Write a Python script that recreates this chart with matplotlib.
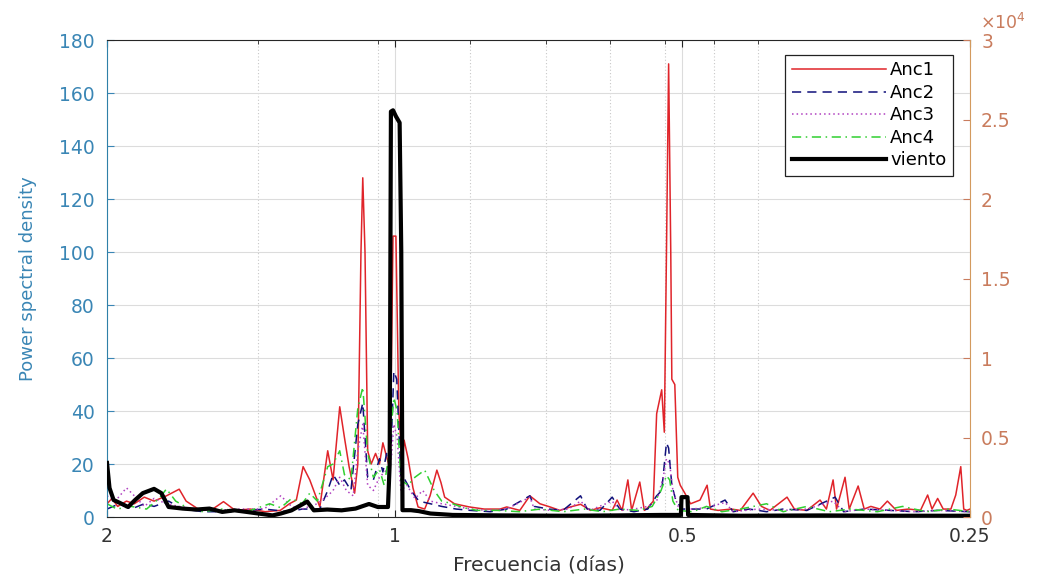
import matplotlib
matplotlib.use("Agg")
import matplotlib.pyplot as plt
from matplotlib.ticker import FixedLocator, FixedFormatter, MultipleLocator, FuncFormatter, NullFormatter

plt.rcParams['font.family'] = ['DejaVu Sans']

# ---------------- data (frequency in cycles per day) ----------------
anc1_f = [0.500, 0.506, 0.513, 0.524, 0.534, 0.547, 0.560, 0.577, 0.595, 0.605, 0.626, 0.645, 0.662,
          0.681, 0.706, 0.732, 0.759, 0.776, 0.789, 0.802, 0.815, 0.835, 0.851, 0.858, 0.862, 0.876,
          0.886, 0.896, 0.908, 0.915, 0.922, 0.926, 0.931, 0.937, 0.945, 0.955, 0.964, 0.972, 0.982,
          0.989, 0.996, 1.003, 1.010, 1.018, 1.023, 1.033, 1.045, 1.058, 1.075, 1.089, 1.107, 1.118,
          1.128, 1.155, 1.197, 1.241, 1.289, 1.310, 1.352, 1.385, 1.419, 1.454, 1.489, 1.527, 1.565,
          1.603, 1.640, 1.689, 1.709, 1.730, 1.754, 1.770, 1.805, 1.825, 1.840, 1.865, 1.880, 1.903,
          1.915, 1.925, 1.935, 1.945, 1.950, 1.964, 1.978, 1.990, 2.012, 2.040, 2.087, 2.123, 2.140,
          2.180, 2.250, 2.300, 2.372, 2.420, 2.470, 2.574, 2.620, 2.700, 2.787, 2.830, 2.876, 2.900,
          2.960, 2.990, 3.055, 3.100, 3.150, 3.220, 3.278, 3.350, 3.450, 3.550, 3.612, 3.650, 3.700,
          3.750, 3.820, 3.865, 3.912, 3.940, 3.970, 4.000]
anc1_v = [5, 7, 4, 6, 5, 7.5, 6, 8, 10.5, 6, 2.5, 3, 5.8,
          2.5, 3, 2, 2.5, 5, 6.4, 19, 14, 3.8, 25, 18, 14, 41.6,
          30, 19, 9, 20, 100, 128, 100, 25, 20, 24, 20, 28, 22,
          18, 106, 106, 40, 20, 29, 22, 11, 3.8, 3, 8, 17.7, 13,
          7.5, 5, 3.8, 3, 3, 3.8, 2.5, 8, 5, 3.8, 2.5, 3.8, 4.8,
          2.5, 3.5, 2.5, 6.4, 2.5, 14, 2.5, 13.2, 2.5, 3.5, 6, 39, 48,
          32, 100, 171, 100, 52, 50, 15, 12, 9, 5, 6.4, 12, 3,
          2.5, 3, 2.5, 9, 4, 2.5, 7.5, 3, 2.5, 6.4, 3, 14, 3,
          15, 3, 11.7, 3, 4, 3, 6, 2.5, 3, 2.5, 8.3, 3, 7,
          3, 3, 8.3, 19, 3, 2.5, 3]

anc2_f = [0.500, 0.515, 0.530, 0.547, 0.560, 0.580, 0.600, 0.630, 0.680, 0.730, 0.776, 0.800, 0.835,
          0.851, 0.862, 0.876, 0.886, 0.900, 0.915, 0.926, 0.937, 0.950, 0.964, 0.972, 0.982, 0.990,
          0.998, 1.005, 1.015, 1.023, 1.040, 1.060, 1.090, 1.120, 1.160, 1.200, 1.260, 1.310, 1.385,
          1.400, 1.450, 1.500, 1.565, 1.590, 1.640, 1.689, 1.720, 1.780, 1.840, 1.880, 1.903, 1.925,
          1.935, 1.950, 1.970, 2.000, 2.060, 2.120, 2.217, 2.260, 2.350, 2.450, 2.550, 2.700, 2.890,
          2.950, 3.100, 3.300, 3.500, 3.700, 4.000]
anc2_v = [3, 5, 3, 5, 4, 6, 3, 2, 2, 3, 2, 3, 3,
          10, 16, 12, 14, 10, 35, 43, 15, 14, 22, 17, 25, 20,
          55, 52, 15, 14.6, 10, 6, 5, 4, 3, 2.5, 2, 3, 8,
          4, 3, 2.5, 8, 3, 2.5, 7.5, 3, 2, 3, 8, 10, 28,
          26, 12, 6, 3, 3, 3, 6.4, 2, 3, 2, 3, 2.5, 7.5,
          2, 3, 2.5, 2, 2.5, 2]

anc3_f = [0.500, 0.510, 0.524, 0.534, 0.547, 0.560, 0.577, 0.595, 0.620, 0.650, 0.690, 0.730, 0.760,
          0.780, 0.800, 0.830, 0.851, 0.862, 0.876, 0.890, 0.905, 0.915, 0.926, 0.937, 0.950, 0.964,
          0.982, 0.992, 0.998, 1.006, 1.015, 1.030, 1.050, 1.070, 1.090, 1.120, 1.160, 1.200, 1.250,
          1.310, 1.385, 1.400, 1.460, 1.520, 1.565, 1.600, 1.689, 1.720, 1.780, 1.840, 1.880, 1.910,
          1.925, 1.940, 1.955, 1.980, 2.040, 2.120, 2.217, 2.260, 2.400, 2.550, 2.700, 2.876, 2.950,
          3.100, 3.300, 3.500, 3.700, 4.000]
anc3_v = [8, 6, 11, 8, 4, 7, 5, 4, 3, 2.5, 3, 3, 8,
          4, 3, 5, 8, 10, 15, 10, 8, 25, 35, 12, 10, 15,
          18, 22, 35, 30, 10, 12, 7, 10, 6, 5, 4, 3, 2.5,
          3, 7.5, 3, 2.5, 3, 6, 2.5, 6, 2.5, 3, 4, 6, 15,
          22, 20, 10, 4, 3, 3.5, 5.5, 2, 3, 2.5, 3, 6, 2,
          3, 2.5, 2, 2.5, 2]

anc4_f = [0.500, 0.512, 0.530, 0.550, 0.567, 0.577, 0.590, 0.610, 0.630, 0.660, 0.700, 0.740, 0.760,
          0.780, 0.800, 0.815, 0.830, 0.851, 0.862, 0.876, 0.886, 0.900, 0.915, 0.926, 0.937, 0.950,
          0.964, 0.975, 0.985, 0.998, 1.006, 1.015, 1.033, 1.050, 1.075, 1.100, 1.120, 1.150, 1.180,
          1.220, 1.280, 1.350, 1.420, 1.500, 1.580, 1.650, 1.720, 1.800, 1.860, 1.900, 1.925, 1.940,
          1.955, 1.980, 2.050, 2.120, 2.200, 2.300, 2.450, 2.550, 2.700, 2.850, 3.000, 3.200, 3.400,
          3.600, 3.800, 4.000]
anc4_v = [5, 3, 4, 3, 7, 10.6, 6, 3, 2, 3, 2, 5, 3.5,
          7, 5, 9, 6, 19, 20, 25, 16, 14, 41, 49, 24, 15,
          18, 12, 22, 45, 40, 14, 12, 15, 17.7, 10, 6, 5, 3.5,
          2.5, 2.5, 2, 3, 2, 3, 2, 3, 2.5, 4, 10, 15.6, 14,
          6, 2.5, 2, 4, 2, 3, 5, 2, 4, 2, 3, 2, 4,
          2, 3, 2]

# wind spectrum, right axis
viento_f = [0.500, 0.503, 0.508, 0.516, 0.526, 0.535, 0.545, 0.560, 0.570, 0.580, 0.600, 0.620, 0.640,
            0.660, 0.680, 0.700, 0.720, 0.745, 0.760, 0.780, 0.810, 0.823, 0.850, 0.880, 0.910, 0.940,
            0.960, 0.984, 0.988, 0.991, 0.996, 1.003, 1.012, 1.016, 1.019, 1.040, 1.060, 1.090, 1.150,
            1.300, 1.500, 1.700, 1.900, 1.993, 1.996, 2.025, 2.028, 2.300, 2.800, 3.300, 4.000]
viento_v = [3400, 1830, 1070, 880, 630, 1070, 1500, 1770, 1500, 630, 530, 470, 530,
            320, 420, 320, 220, 100, 220, 420, 970, 420, 470, 420, 530, 820,
            630, 630, 3300, 25500, 25580, 25200, 24800, 16700, 430, 430, 370, 220, 130,
            100, 80, 100, 130, 130, 1250, 1250, 130, 80, 100, 80, 80]

period_ticks = [0.5, 1, 2, 4]
period_labels = ['2', '1', '0.5', '0.25']
minor_ticks = [0.72, 0.96, 1.20, 1.44, 1.68, 1.92, 2.16, 2.40]

left_color = '#3a86b5'
right_color = '#c97c5d'
right_spine = '#d39a5e'

fig = plt.figure(figsize=(10.42, 5.80), dpi=100)
ax = fig.add_axes([0.1027, 0.1086, 0.8282, 0.8224])
ax.set_xscale('log')

l1, = ax.plot(anc1_f, anc1_v, color='#e0242a', lw=1.1, label='Anc1')
l2, = ax.plot(anc2_f, anc2_v, color='#10107a', lw=1.1, ls=(0, (6, 4)), label='Anc2')
l3, = ax.plot(anc3_f, anc3_v, color='#b040c0', lw=1.1, ls=(0, (1, 2)), label='Anc3')
l4, = ax.plot(anc4_f, anc4_v, color='#30d030', lw=1.1, ls=(0, (6, 3, 1, 3)), label='Anc4')

ax.set_xlim(0.5, 4)
ax.set_ylim(0, 180)
ax.yaxis.set_major_locator(MultipleLocator(20))
ax.xaxis.set_major_locator(FixedLocator(period_ticks))
ax.xaxis.set_major_formatter(FixedFormatter(period_labels))
ax.xaxis.set_minor_locator(FixedLocator(minor_ticks))
ax.xaxis.set_minor_formatter(NullFormatter())

ax.grid(True, which='major', axis='both', color='#dcdcdc', lw=0.8)
ax.grid(True, which='minor', axis='x', color='#c8c8c8', lw=0.8, ls=(0, (1, 2)))
ax.set_axisbelow(True)

ax.tick_params(axis='x', which='both', direction='in', top=True, labelsize=13.5, pad=7, colors='#222222',
               labelcolor='#333333')
ax.tick_params(axis='x', which='major', length=5)
ax.tick_params(axis='x', which='minor', length=3)
ax.tick_params(axis='y', direction='in', length=5, labelsize=13.5, pad=9, colors=left_color)
ax.spines['left'].set_color('#2f80a8')
ax.spines['right'].set_visible(False)
for s in ('top', 'bottom'):
    ax.spines[s].set_color('#262626')

ax.set_ylabel('Power spectral density', fontsize=13, color=left_color)
ax.yaxis.set_label_coords(-0.081, 0.5)
ax.set_xlabel('Frecuencia (días)', fontsize=14.5, color='#333333', va='top')
ax.xaxis.set_label_coords(0.5, -0.083)

ax2 = ax.twinx()
l5, = ax2.plot(viento_f, viento_v, color='black', lw=3.0, label='viento', solid_joinstyle='round')
ax2.set_ylim(0, 30000)
ax2.yaxis.set_major_locator(MultipleLocator(5000))
ax2.yaxis.set_major_formatter(FuncFormatter(lambda v, p: f"{v / 1e4:g}"))
ax2.tick_params(axis='y', direction='in', length=5, labelsize=13.5, pad=8, colors=right_color)
ax2.spines['right'].set_color(right_spine)
ax2.spines['left'].set_visible(False)
ax2.spines['top'].set_visible(False)
ax2.spines['bottom'].set_visible(False)
ax2.text(1.012, 1.015, r'$\times10^{4}$', transform=ax2.transAxes, ha='left', va='bottom',
         color=right_color, fontsize=12.5)

leg = ax2.legend(handles=[l1, l2, l3, l4, l5], loc='upper right', bbox_to_anchor=(0.980, 0.9686),
                 borderaxespad=0, fontsize=13, handlelength=5.2, handletextpad=0.25,
                 labelspacing=0.25, fancybox=False, framealpha=1, edgecolor='#222222',
                 borderpad=0.35)
leg.get_frame().set_linewidth(0.9)

fig.savefig('out.png', dpi=100)
